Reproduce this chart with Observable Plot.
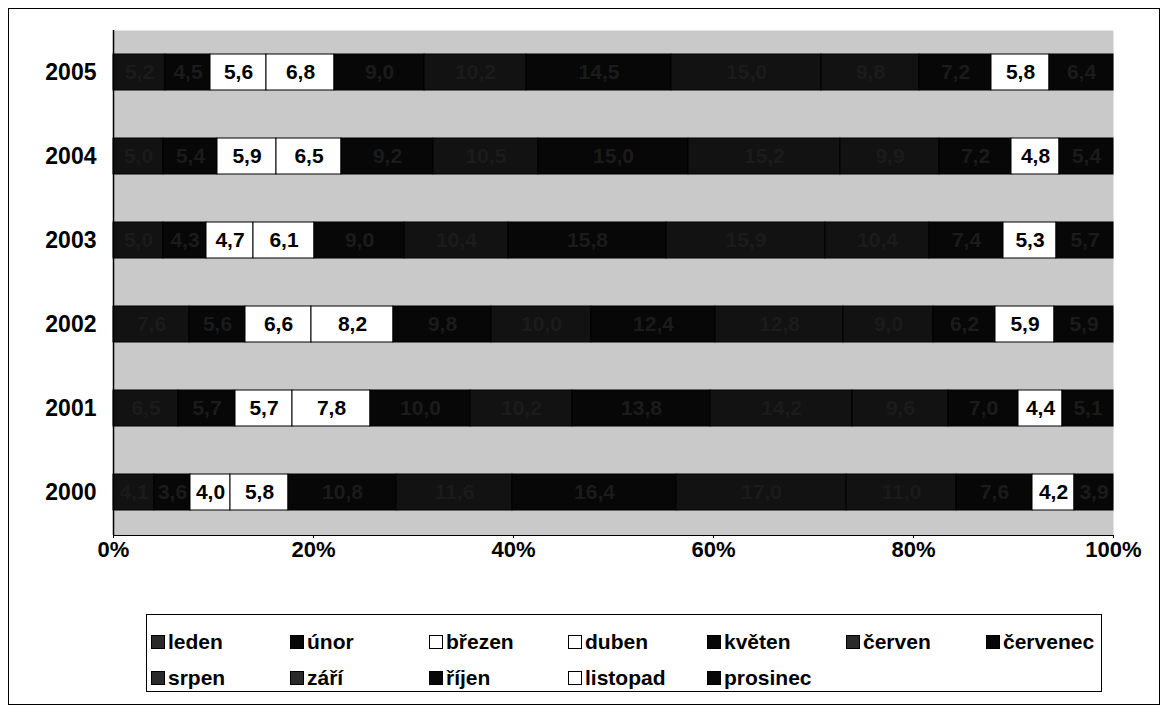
<!DOCTYPE html>
<html><head><meta charset="utf-8">
<script src="https://cdn.jsdelivr.net/npm/d3@7"></script>
<script src="https://cdn.jsdelivr.net/npm/@observablehq/plot@0.6"></script>
<style>
body{margin:0;background:#fff;font-family:"Liberation Sans",Arial,sans-serif;}
#wrap{position:relative;width:1171px;height:713px;overflow:hidden;}
#border{position:absolute;left:8px;top:8px;width:1150px;height:695px;border:1px solid #000;}
#chart{position:absolute;left:0;top:0;}
#legend{position:absolute;left:146px;top:614px;width:954px;height:76px;border:1px solid #000;background:#fff;}
.item{position:absolute;font-weight:bold;font-size:21px;display:flex;align-items:center;white-space:nowrap;}
.sw{width:14px;height:14px;border:1px solid #000;margin-right:3px;box-sizing:border-box;}
</style></head><body>
<div id="wrap"><div id="border"></div><div id="chart"></div><div id="legend"></div></div>
<script>
const years = ["2005","2004","2003","2002","2001","2000"];
const months = ["leden","únor","březen","duben","květen","červen","červenec","srpen","září","říjen","listopad","prosinec"];
const monthColors = ["#121212","#070707","#ffffff","#ffffff","#070707","#121212","#070707","#121212","#121212","#070707","#ffffff","#070707"];
const legendColors = ["#2a2a2a","#070707","#ffffff","#ffffff","#070707","#2a2a2a","#070707","#2a2a2a","#2a2a2a","#070707","#ffffff","#070707"];
// share of each month in the year (%), rows follow `years`
const v2005 = [5.2,4.5,5.6,6.8,9.0,10.2,14.5,15.0,9.8,7.2,5.8,6.4];
const v2004 = [5.0,5.4,5.9,6.5,9.2,10.5,15.0,15.2,9.9,7.2,4.8,5.4];
const v2003 = [5.0,4.3,4.7,6.1,9.0,10.4,15.8,15.9,10.4,7.4,5.3,5.7];
const v2002 = [7.6,5.6,6.6,8.2,9.8,10.0,12.4,12.8,9.0,6.2,5.9,5.9];
const v2001 = [6.5,5.7,5.7,7.8,10.0,10.2,13.8,14.2,9.6,7.0,4.4,5.1];
const v2000 = [4.1,3.6,4.0,5.8,10.8,11.6,16.4,17.0,11.0,7.6,4.2,3.9];
const series = [v2005,v2004,v2003,v2002,v2001,v2000];

const data = [];
years.forEach((y,i)=>months.forEach((m,j)=>data.push({year:y, month:m, value:series[i][j], white: monthColors[j]==="#ffffff"})));
const fmt = v => v.toFixed(1).replace(".", ",");
const pct = d => Math.round(d*100)+"%";

const chart = Plot.plot({
  width:1171, height:580,
  marginLeft:113, marginRight:58, marginTop:30, marginBottom:45,
  style:{fontFamily:"Liberation Sans, Arial, sans-serif", background:"transparent", overflow:"visible"},
  x:{domain:[0,1]},
  y:{domain:years, padding:0.57, paddingOuter:0.28},
  color:{domain:months, range:monthColors},
  marks:[
    Plot.frame({fill:"#c9c9c9", stroke:null}),
    Plot.barX(data, Plot.stackX({x:"value", y:"year", fill:"month", order:months, offset:"normalize", stroke:"#000", strokeWidth:1})),
    Plot.text(data, Plot.stackX({x:"value", y:"year", z:"month", order:months, offset:"normalize", text:d=>fmt(d.value), fill:d=>d.white?"#000":"#1b1b1b", fontSize:21, fontWeight:"bold"})),
    Plot.ruleX([0], {stroke:"#000", strokeWidth:1.5}),
    Plot.frame({anchor:"bottom", stroke:"#000"}),
    Plot.axisX({ticks:[0,0.2,0.4,0.6,0.8,1], tickFormat:pct, fontSize:22, fontWeight:"bold", tickSize:3, tickPadding:3, label:null, color:"#000"}),
    Plot.axisY({fontSize:23, fontWeight:"bold", tickSize:0, tickPadding:17, label:null, color:"#000"})
  ]
});
document.getElementById("chart").appendChild(chart);

const leg = document.getElementById("legend");
const colX = [4,143,282,421,560,699,839];
months.forEach((m,j)=>{
  const d = document.createElement("div");
  d.className="item";
  const col = j<7 ? j : j-7, row = j<7 ? 0 : 1;
  d.style.left=colX[col]+"px"; d.style.top=(row===0?15:51)+"px";
  d.innerHTML = `<span class="sw" style="background:${legendColors[j]}"></span>${m}`;
  leg.appendChild(d);
});
</script></body></html>
